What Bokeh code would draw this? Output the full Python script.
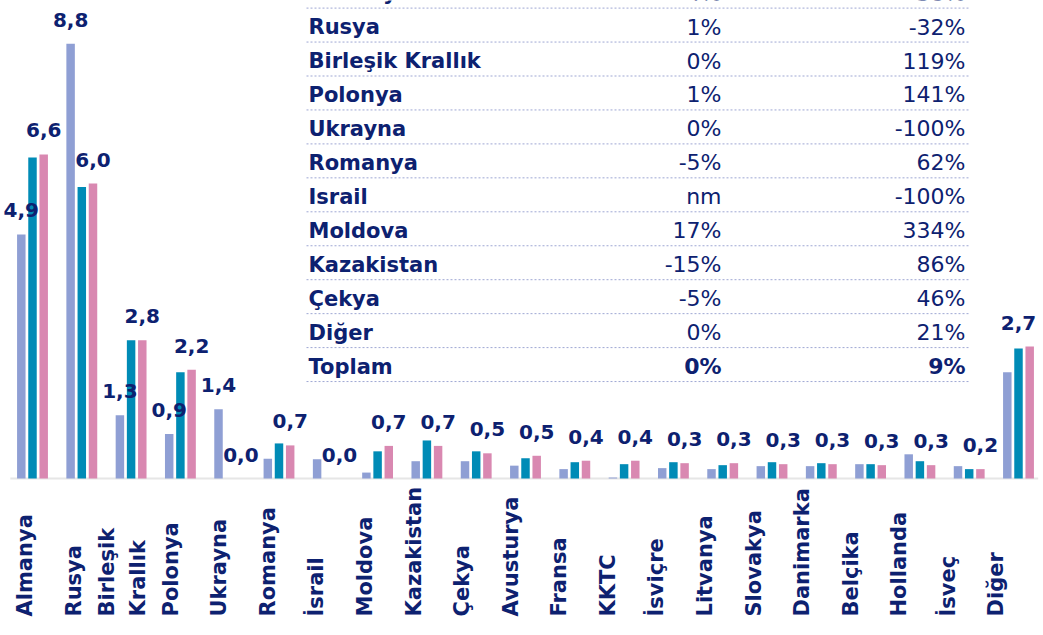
import math
from bokeh.plotting import figure
from bokeh.models import ColumnDataSource, Range1d
from bokeh.core.properties import value
from bokeh.embed import file_html
from bokeh.resources import INLINE

# ---------------- data ----------------
categories = ["Almanya", "Rusya", "Birleşik Krallık", "Polonya", "Ukrayna", "Romanya",
              "İsrail", "Moldova", "Kazakistan", "Çekya", "Avusturya", "Fransa", "KKTC",
              "İsviçre", "Litvanya", "Slovakya", "Danimarka", "Belçika", "Hollanda",
              "İsveç", "Diğer"]
axis_labels = ["Almanya", "Rusya", "Birleşik\nKrallık", "Polonya", "Ukrayna", "Romanya",
               "İsrail", "Moldova", "Kazakistan", "Çekya", "Avusturya", "Fransa", "KKTC",
               "İsviçre", "Litvanya", "Slovakya", "Danimarka", "Belçika", "Hollanda",
               "İsveç", "Diğer"]
series_a = [4.94, 8.8, 1.28, 0.9, 1.4, 0.4, 0.39, 0.12, 0.35, 0.35, 0.26, 0.19, 0.02,
            0.21, 0.19, 0.25, 0.25, 0.29, 0.49, 0.25, 2.15]
series_b = [6.5, 5.9, 2.8, 2.15, 0.0, 0.71, 0.0, 0.55, 0.77, 0.55, 0.41, 0.33, 0.29,
            0.33, 0.27, 0.33, 0.31, 0.29, 0.35, 0.19, 2.63]
series_c = [6.56, 5.97, 2.8, 2.2, 0.0, 0.67, 0.0, 0.66, 0.66, 0.51, 0.46, 0.36, 0.36,
            0.31, 0.31, 0.29, 0.29, 0.27, 0.27, 0.19, 2.67]
labeled_a = ["Almanya", "Rusya", "Birleşik Krallık", "Polonya", "Ukrayna"]

table_names = ["Almanya", "Rusya", "Birleşik Krallık", "Polonya", "Ukrayna", "Romanya",
               "Israil", "Moldova", "Kazakistan", "Çekya", "Diğer", "Toplam"]
table_col1 = ["4%", "1%", "0%", "1%", "0%", "-5%", "nm", "17%", "-15%", "-5%", "0%", "0%"]
table_col2 = ["38%", "-32%", "119%", "141%", "-100%", "62%", "-100%", "334%", "86%",
              "46%", "21%", "9%"]

# ---------------- styles ----------------
NAVY = "#0d2170"
C_A, C_B, C_C = "#8f9fd4", "#008bb6", "#d988b1"
FONT = value("DejaVu Sans")

W, H = 1043, 635
SX, SY = 49.3, 49.4          # px per unit
X0 = -32 / SX
X1 = X0 + W / SX
BASE = 478                   # px (from top) of y=0
Y1 = BASE / SY
Y0 = -(H - BASE) / SY


def dx(px):  # px from left -> data x
    return X0 + px / SX


def dy(py):  # px from top -> data y
    return (BASE - py) / SY


p = figure(width=W, height=H, x_range=Range1d(X0, X1), y_range=Range1d(Y0, Y1),
           x_axis_type=None, y_axis_type=None, toolbar_location=None,
           output_backend="svg", min_border=0, outline_line_color=None)
p.grid.visible = False
p.background_fill_color = "white"
p.border_fill_color = "white"

idx = list(range(len(categories)))
OFF, BW = 0.227, 0.172

# baseline
p.segment(x0=[-0.45], y0=[0], x1=[20.4], y1=[0], line_color="#e6e6e6", line_width=2)

p.vbar(x=[i - OFF for i in idx], top=series_a, width=BW, fill_color=C_A, line_color=None)
p.vbar(x=idx, top=series_b, width=BW, fill_color=C_B, line_color=None)
p.vbar(x=[i + OFF for i in idx], top=series_c, width=BW, fill_color=C_C, line_color=None)


def fmt(v):
    return f"{v:.1f}".replace(".", ",")


last = len(idx) - 1
# value labels
lab_c = ColumnDataSource(dict(x=[min(i + OFF, last) for i in idx], y=series_c,
                              t=[fmt(v) for v in series_c]))
p.text(x="x", y="y", text="t", source=lab_c, text_font=FONT, text_font_style="bold",
       text_font_size="20px", text_color=NAVY, text_align="center",
       text_baseline="alphabetic", y_offset=-24)
sel = [i for i in idx if categories[i] in labeled_a]
lab_a = ColumnDataSource(dict(x=[i - OFF for i in sel], y=[series_a[i] for i in sel],
                              t=[fmt(series_a[i]) for i in sel]))
p.text(x="x", y="y", text="t", source=lab_a, text_font=FONT, text_font_style="bold",
       text_font_size="20px", text_color=NAVY, text_align="center",
       text_baseline="alphabetic", y_offset=-24)

# category labels (vertical)
cat_src = ColumnDataSource(dict(x=[i * 0.985 - 0.15 for i in idx],
                                y=[dy(616)] * len(idx), t=axis_labels))
p.text(x="x", y="y", text="t", source=cat_src, angle=math.pi / 2, text_font=FONT,
       text_font_style="bold", text_font_size="21px", text_color=NAVY,
       text_align="left", text_baseline="middle", text_line_height=1.3)

# table
n = len(table_names)
row_base = [dy(-7.4 + 33.95 * k) for k in range(n)]
line_y = [dy(7.6 + 33.95 * k) for k in range(n)]
p.segment(x0=[dx(306)] * n, y0=line_y, x1=[dx(968)] * n, y1=line_y,
          line_color="#9ea7d3", line_width=1, line_dash="2 2")
p.text(x=[dx(308)] * n, y=row_base, text=table_names, text_font=FONT,
       text_font_style="bold", text_font_size="21px", text_color=NAVY,
       text_align="left", text_baseline="alphabetic")
reg = list(range(n - 1))
p.text(x=[dx(721)] * len(reg), y=[row_base[k] for k in reg],
       text=[table_col1[k] for k in reg], text_font=FONT, text_font_size="22px",
       text_color=NAVY, text_align="right", text_baseline="alphabetic")
p.text(x=[dx(965)] * len(reg), y=[row_base[k] for k in reg],
       text=[table_col2[k] for k in reg], text_font=FONT, text_font_size="22px",
       text_color=NAVY, text_align="right", text_baseline="alphabetic")
p.text(x=[dx(721), dx(965)], y=[row_base[-1]] * 2, text=[table_col1[-1], table_col2[-1]],
       text_font=FONT, text_font_style="bold", text_font_size="22px", text_color=NAVY,
       text_align="right", text_baseline="alphabetic")

open("out.html", "w").write(file_html(p, INLINE))
